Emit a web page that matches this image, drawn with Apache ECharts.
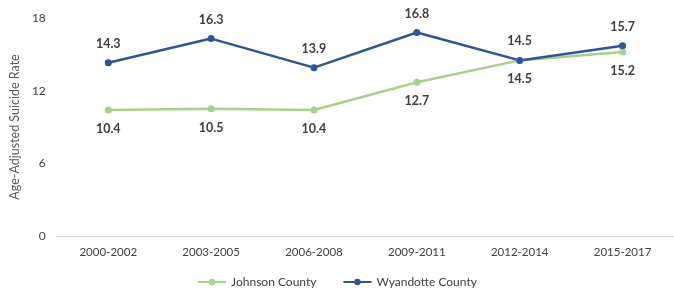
<!DOCTYPE html>
<html>
<head>
<meta charset="utf-8">
<script src="https://cdn.jsdelivr.net/npm/echarts@6/dist/echarts.min.js"></script>
<style>
  html, body { margin: 0; padding: 0; background: #fff; }
  #chart { width: 674px; height: 288px; }
</style>
</head>
<body>
<div id="chart"></div>
<script>
var periods = ['2000-2002', '2003-2005', '2006-2008', '2009-2011', '2012-2014', '2015-2017'];
var johnson = [10.4, 10.5, 10.4, 12.7, 14.5, 15.2];
var wyandotte = [14.3, 16.3, 13.9, 16.8, 14.5, 15.7];
var yTicks = [0, 6, 12, 18];

var font = 'Lato';
var labelStyle = {
  show: true,
  fontFamily: font,
  fontSize: 12.5,
  fontWeight: 'bold',
  color: '#404040',
  distance: 9
};

var option = {
  animation: false,
  grid: {
    left: 56,
    width: 640,
    top: 18,
    bottom: 52
  },
  legend: {
    bottom: 0,
    left: 'center',
    padding: [0, 5, 0, 5],
    itemWidth: 28,
    itemHeight: 8,
    itemGap: 26,
    textStyle: { fontFamily: font, fontSize: 12, color: '#404040' },
    data: ['Johnson County', 'Wyandotte County']
  },
  xAxis: {
    type: 'category',
    data: periods,
    axisLine: { lineStyle: { color: '#d9d9d9' } },
    axisTick: { show: false },
    axisLabel: { fontFamily: font, fontSize: 11.5, color: '#404040', margin: 10 }
  },
  yAxis: {
    type: 'value',
    min: yTicks[0],
    max: yTicks[yTicks.length - 1],
    interval: 6,
    name: 'Age-Adjusted Suicide Rate',
    nameLocation: 'middle',
    nameGap: 32,
    nameTextStyle: { fontFamily: font, fontSize: 12.5, color: '#595959' },
    splitLine: { show: false },
    axisLine: { show: false },
    axisTick: { show: false },
    axisLabel: { fontFamily: font, fontSize: 12, color: '#404040', margin: 11 }
  },
  series: [
    {
      name: 'Johnson County',
      type: 'line',
      data: johnson,
      color: '#a9d18e',
      symbol: 'circle',
      symbolSize: 7,
      lineStyle: { width: 2.5 },
      label: Object.assign({ position: 'bottom' }, labelStyle)
    },
    {
      name: 'Wyandotte County',
      type: 'line',
      data: wyandotte,
      color: '#2f5597',
      symbol: 'circle',
      symbolSize: 7,
      lineStyle: { width: 2.5 },
      label: Object.assign({ position: 'top' }, labelStyle)
    }
  ]
};

var myChart = echarts.init(document.getElementById('chart'));
myChart.setOption(option);
</script>
</body>
</html>
